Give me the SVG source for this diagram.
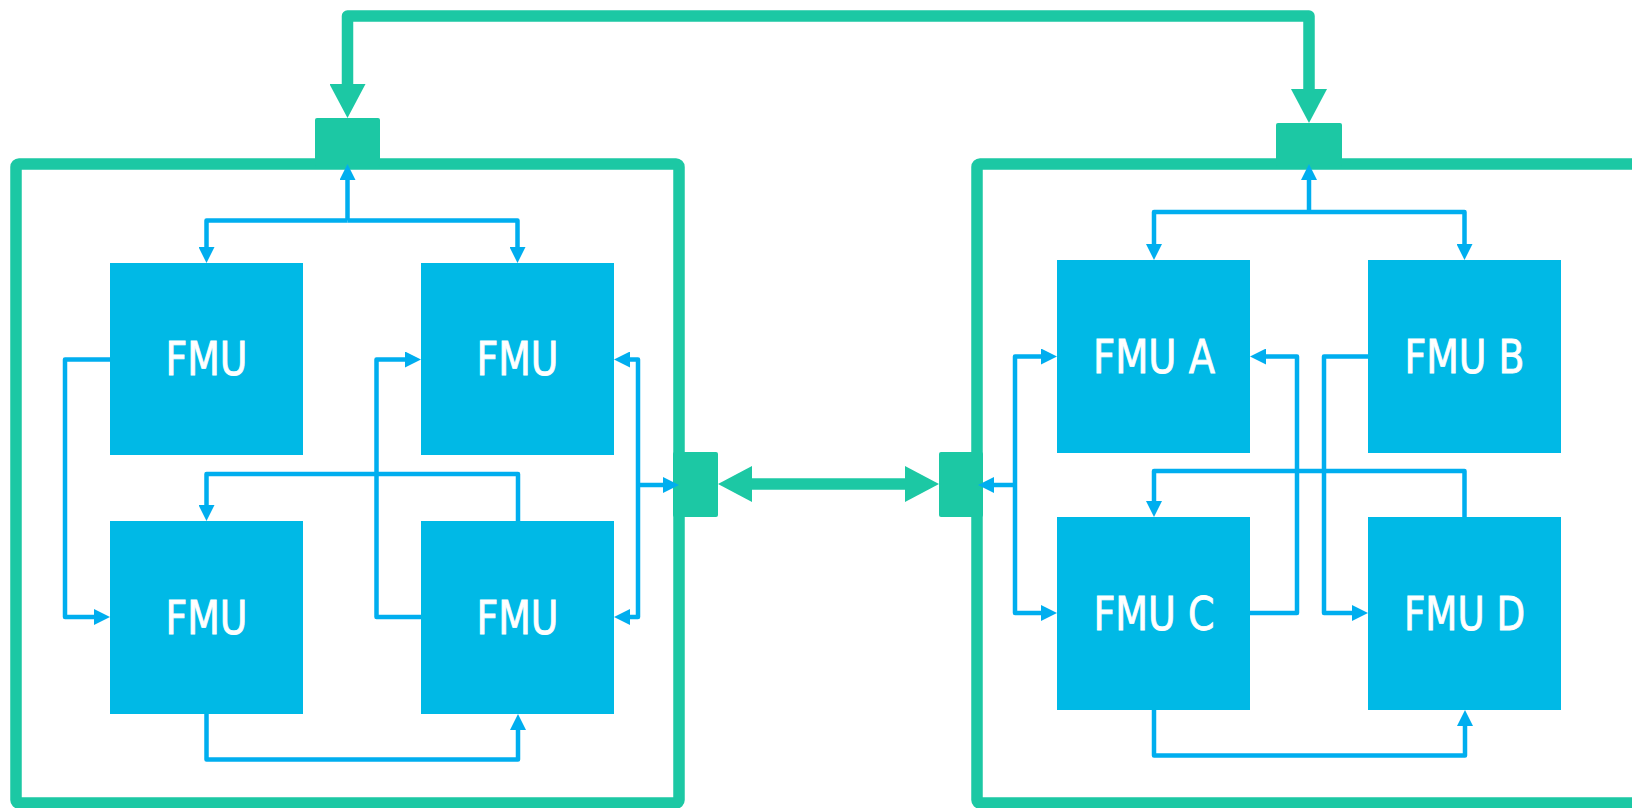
<svg xmlns="http://www.w3.org/2000/svg" width="1632" height="808" viewBox="0 0 1632 808">
  <style>
    .frame { fill: none; stroke: #1CC8A4; stroke-width: 11.5; stroke-linejoin: round; }
    .port { fill: #1CC8A4; }
    .bus { fill: none; stroke: #1CC8A4; stroke-width: 11.5; stroke-linejoin: round; }
    .link { fill: none; stroke: #00AEEF; stroke-width: 4.5; stroke-linejoin: round; }
    .fmu { fill: #00B9E6; }
    .lbl { fill: #FFFFFF; stroke: #FFFFFF; stroke-width: 0.8; font-family: "DejaVu Sans Condensed", "DejaVu Sans", sans-serif; font-stretch: condensed; font-size: 46px; text-anchor: middle; }
  </style>
  <defs>
    <marker id="ab" viewBox="0 0 16 16" refX="10" refY="8" markerWidth="16" markerHeight="16" markerUnits="userSpaceOnUse" orient="auto-start-reverse">
      <path d="M0,0 L16,8 L0,16 Z" fill="#00AEEF"/>
    </marker>
    <marker id="ag" viewBox="0 0 34 36" refX="20" refY="18" markerWidth="34" markerHeight="36" markerUnits="userSpaceOnUse" orient="auto-start-reverse">
      <path d="M0,0 L34,18 L0,36 Z" fill="#1CC8A4"/>
    </marker>
  </defs>

  <g id="subsystem-left">
    <rect class="frame" x="16" y="164" width="663" height="639" rx="3"/>
  </g>
  <g id="subsystem-right">
    <rect class="frame" x="977" y="164" width="720" height="639" rx="3"/>
  </g>

  <g id="port-left-top"><rect class="port" x="315" y="118" width="65" height="48" rx="2"/></g>
  <g id="port-right-top"><rect class="port" x="1276" y="123" width="66" height="43" rx="2"/></g>
  <g id="port-left-mid"><rect class="port" x="673" y="452" width="45" height="65" rx="2"/></g>
  <g id="port-right-mid"><rect class="port" x="939" y="452" width="44" height="65" rx="2"/></g>

  <g id="n1"><rect class="fmu" x="110" y="263" width="193" height="192"/><text class="lbl" x="206.5" y="375" textLength="82" lengthAdjust="spacingAndGlyphs">FMU</text></g>
  <g id="n2"><rect class="fmu" x="421" y="263" width="193" height="192"/><text class="lbl" x="517.5" y="375" textLength="82" lengthAdjust="spacingAndGlyphs">FMU</text></g>
  <g id="n3"><rect class="fmu" x="110" y="521" width="193" height="193"/><text class="lbl" x="206.5" y="634" textLength="82" lengthAdjust="spacingAndGlyphs">FMU</text></g>
  <g id="n4"><rect class="fmu" x="421" y="521" width="193" height="193"/><text class="lbl" x="517.5" y="634" textLength="82" lengthAdjust="spacingAndGlyphs">FMU</text></g>

  <g id="fmuA"><rect class="fmu" x="1057" y="260" width="193" height="193"/><text class="lbl" x="1154" y="373" textLength="122" lengthAdjust="spacingAndGlyphs">FMU A</text></g>
  <g id="fmuB"><rect class="fmu" x="1368" y="260" width="193" height="193"/><text class="lbl" x="1464.5" y="373" textLength="120" lengthAdjust="spacingAndGlyphs">FMU B</text></g>
  <g id="fmuC"><rect class="fmu" x="1057" y="517" width="193" height="193"/><text class="lbl" x="1154" y="630" textLength="121" lengthAdjust="spacingAndGlyphs">FMU C</text></g>
  <g id="fmuD"><rect class="fmu" x="1368" y="517" width="193" height="193"/><text class="lbl" x="1464.5" y="630" textLength="121" lengthAdjust="spacingAndGlyphs">FMU D</text></g>

  <g id="connectors">
    <path class="bus" d="M347.5,104 V16 H1309 V109" marker-start="url(#ag)" marker-end="url(#ag)"/>
    <path class="bus" d="M732,484 H925" marker-start="url(#ag)" marker-end="url(#ag)"/>

    <path class="link" d="M347.5,220.5 V170" marker-end="url(#ab)"/>
    <path class="link" d="M347.5,220.5 H206.5 V257" marker-end="url(#ab)"/>
    <path class="link" d="M347.5,220.5 H517.5 V257" marker-end="url(#ab)"/>
    <path class="link" d="M110,359.5 H65 V617 H104" marker-end="url(#ab)"/>
    <path class="link" d="M518,521 V474 H206.5 V515" marker-end="url(#ab)"/>
    <path class="link" d="M421,617 H376.5 V359.5 H415" marker-end="url(#ab)"/>
    <path class="link" d="M638,485 H673" marker-end="url(#ab)"/>
    <path class="link" d="M638,485 V359.5 H620" marker-end="url(#ab)"/>
    <path class="link" d="M638,485 V617 H620" marker-end="url(#ab)"/>
    <path class="link" d="M206.5,714 V759.5 H518 V720" marker-end="url(#ab)"/>

    <path class="link" d="M1309,212 V170" marker-end="url(#ab)"/>
    <path class="link" d="M1309,212 H1154 V254" marker-end="url(#ab)"/>
    <path class="link" d="M1309,212 H1464.5 V254" marker-end="url(#ab)"/>
    <path class="link" d="M1015,485 H984" marker-end="url(#ab)"/>
    <path class="link" d="M1015,485 V356.5 H1051" marker-end="url(#ab)"/>
    <path class="link" d="M1015,485 V613 H1051" marker-end="url(#ab)"/>
    <path class="link" d="M1250,613 H1297 V356.5 H1256" marker-end="url(#ab)"/>
    <path class="link" d="M1368,356.5 H1324 V613 H1362" marker-end="url(#ab)"/>
    <path class="link" d="M1464.5,517 V471 H1154 V511" marker-end="url(#ab)"/>
    <path class="link" d="M1154,710 V755.5 H1465 V716" marker-end="url(#ab)"/>
  </g>
</svg>
